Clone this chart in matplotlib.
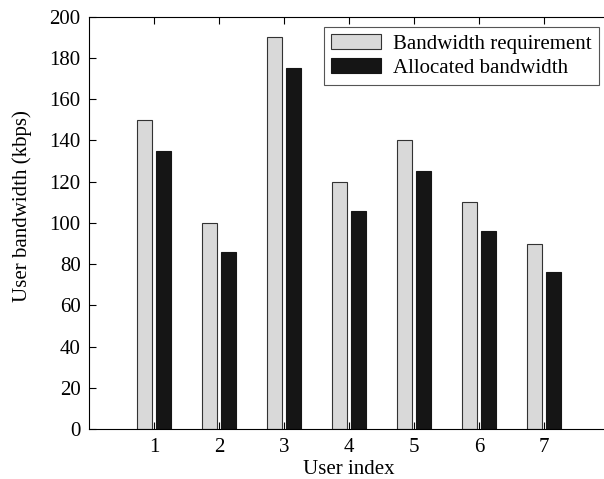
import numpy as np
import matplotlib
matplotlib.use("Agg")
import matplotlib.pyplot as plt

plt.rcParams["font.family"] = ["Liberation Serif", "DejaVu Serif"]

users = [1, 2, 3, 4, 5, 6, 7]
requirement = [150, 100, 190, 120, 140, 110, 90]
allocated = [135, 86, 175, 106, 125, 96, 76]

fig = plt.figure(figsize=(6.04, 4.79), dpi=100)
# right edge of the frame falls just outside the image, as in the reference
ax = fig.add_axes([0.1474, 0.104, 0.861, 0.861])

x = np.array(users)
ax.bar(x - 0.143, requirement, width=0.23, color="#d9d9d9", edgecolor="#333333",
       linewidth=0.8, label="Bandwidth requirement")
ax.bar(x + 0.143, allocated, width=0.23, color="#151515", edgecolor="#151515",
       linewidth=0.8, label="Allocated bandwidth")

ax.set_xlim(0, 8)
ax.set_ylim(0, 200)
ax.set_xticks(users)
ax.set_yticks(range(0, 201, 20))
ax.tick_params(direction="in", top=True, right=False, labelsize=15, length=5, pad=6)
ax.set_xlabel("User index", fontsize=15, labelpad=2.5)
ax.set_ylabel("User bandwidth (kbps)", fontsize=15)
ax.yaxis.set_label_coords(-0.11, 0.54)

leg = ax.legend(loc="upper right", fontsize=15, fancybox=False, framealpha=1,
                edgecolor="#555555", borderaxespad=0.5, handlelength=2.4,
                handletextpad=0.55, labelspacing=0.2, borderpad=0.35)
leg.get_frame().set_linewidth(0.8)

fig.savefig("out.png", dpi=100)
